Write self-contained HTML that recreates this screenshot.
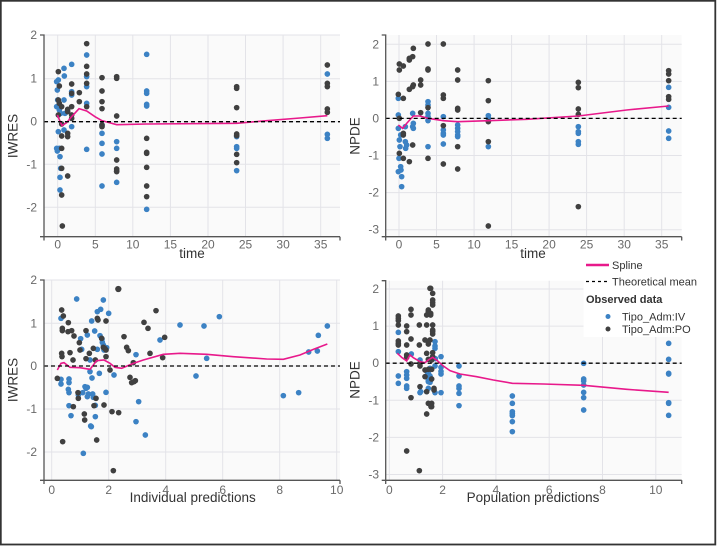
<!DOCTYPE html>
<html><head><meta charset="utf-8"><style>
html,body{margin:0;padding:0;background:#fff;}
svg{display:block;font-family:"Liberation Sans","DejaVu Sans",sans-serif;}
.tk{font-size:12px;fill:#6a6a6a;}
.ttl{font-size:13.5px;fill:#333;}
.lg{font-size:11px;fill:#333;}
.b{fill:#3c82c4;}
.d{fill:#404040;}
.sp{fill:none;stroke:#e8198b;stroke-width:1.6;}
.ax{stroke:#555;stroke-width:1.3;fill:none;}
.gr{stroke:#e3e3e8;stroke-width:1;}
.dash{stroke:#000;stroke-width:1.3;stroke-dasharray:4,3;}
</style></head><body>
<svg width="719" height="546" viewBox="0 0 719 546" xmlns="http://www.w3.org/2000/svg">
<rect x="0" y="0" width="719" height="546" fill="#fff"/>
<rect x="0.8" y="0.8" width="714.5" height="543.7" fill="none" stroke="#333" stroke-width="1.8"/>

<!-- ============ TOP LEFT ============ -->
<rect x="44" y="35" width="296" height="201" fill="#fafafa"/>
<g class="gr">
<line x1="57.7" y1="35" x2="57.7" y2="236"/><line x1="95.3" y1="35" x2="95.3" y2="236"/><line x1="132.8" y1="35" x2="132.8" y2="236"/><line x1="170.4" y1="35" x2="170.4" y2="236"/><line x1="208" y1="35" x2="208" y2="236"/><line x1="245.5" y1="35" x2="245.5" y2="236"/><line x1="283.1" y1="35" x2="283.1" y2="236"/><line x1="320.7" y1="35" x2="320.7" y2="236"/>
<line x1="44" y1="35" x2="340" y2="35"/><line x1="44" y1="78.7" x2="340" y2="78.7"/><line x1="44" y1="121.7" x2="340" y2="121.7"/><line x1="44" y1="164.3" x2="340" y2="164.3"/><line x1="44" y1="207.3" x2="340" y2="207.3"/>
</g>
<g transform="scale(0.333333)">
<g class="b">
<circle cx="170" cy="245" r="8.5"/><circle cx="175" cy="240" r="8.5"/><circle cx="172" cy="270" r="8.5"/><circle cx="173" cy="300" r="8.5"/><circle cx="170" cy="320" r="8.5"/><circle cx="178" cy="330" r="8.5"/><circle cx="182" cy="340" r="8.5"/><circle cx="192" cy="205" r="8.5"/><circle cx="193" cy="228" r="8.5"/><circle cx="192" cy="300" r="8.5"/><circle cx="195" cy="340" r="8.5"/><circle cx="215" cy="193" r="8.5"/><circle cx="215" cy="275" r="8.5"/><circle cx="215" cy="285" r="8.5"/><circle cx="215" cy="380" r="8.5"/><circle cx="175" cy="395" r="8.5"/><circle cx="170" cy="445" r="8.5"/><circle cx="172" cy="453" r="8.5"/><circle cx="178" cy="445" r="8.5"/><circle cx="180" cy="470" r="8.5"/><circle cx="182" cy="505" r="8.5"/><circle cx="180" cy="532" r="8.5"/><circle cx="180" cy="570" r="8.5"/><circle cx="192" cy="390" r="8.5"/><circle cx="260" cy="165" r="8.5"/><circle cx="260" cy="230" r="8.5"/><circle cx="260" cy="260" r="8.5"/><circle cx="260" cy="310" r="8.5"/><circle cx="260" cy="448" r="8.5"/><circle cx="306" cy="375" r="8.5"/><circle cx="306" cy="400" r="8.5"/><circle cx="306" cy="430" r="8.5"/><circle cx="306" cy="462" r="8.5"/><circle cx="306" cy="558" r="8.5"/><circle cx="350" cy="425" r="8.5"/><circle cx="350" cy="445" r="8.5"/><circle cx="350" cy="547" r="8.5"/><circle cx="440" cy="163" r="8.5"/><circle cx="440" cy="273" r="8.5"/><circle cx="440" cy="280" r="8.5"/><circle cx="440" cy="313" r="8.5"/><circle cx="440" cy="318" r="8.5"/><circle cx="440" cy="628" r="8.5"/><circle cx="710" cy="410" r="8.5"/><circle cx="710" cy="440" r="8.5"/><circle cx="710" cy="445" r="8.5"/><circle cx="710" cy="512" r="8.5"/><circle cx="982" cy="222" r="8.5"/><circle cx="982" cy="403" r="8.5"/><circle cx="982" cy="415" r="8.5"/>
</g>
<g class="d">
<circle cx="175" cy="215" r="8.5"/><circle cx="178" cy="258" r="8.5"/><circle cx="175" cy="300" r="8.5"/><circle cx="178" cy="310" r="8.5"/><circle cx="185" cy="320" r="8.5"/><circle cx="175" cy="345" r="8.5"/><circle cx="185" cy="372" r="8.5"/><circle cx="185" cy="408" r="8.5"/><circle cx="185" cy="445" r="8.5"/><circle cx="185" cy="505" r="8.5"/><circle cx="185" cy="585" r="8.5"/><circle cx="187" cy="678" r="8.5"/><circle cx="203" cy="328" r="8.5"/><circle cx="203" cy="335" r="8.5"/><circle cx="203" cy="400" r="8.5"/><circle cx="203" cy="410" r="8.5"/><circle cx="203" cy="528" r="8.5"/><circle cx="215" cy="252" r="8.5"/><circle cx="215" cy="280" r="8.5"/><circle cx="215" cy="320" r="8.5"/><circle cx="215" cy="345" r="8.5"/><circle cx="215" cy="355" r="8.5"/><circle cx="238" cy="278" r="8.5"/><circle cx="238" cy="305" r="8.5"/><circle cx="260" cy="131" r="8.5"/><circle cx="260" cy="199" r="8.5"/><circle cx="260" cy="222" r="8.5"/><circle cx="260" cy="250" r="8.5"/><circle cx="260" cy="320" r="8.5"/><circle cx="306" cy="233" r="8.5"/><circle cx="306" cy="273" r="8.5"/><circle cx="306" cy="305" r="8.5"/><circle cx="306" cy="326" r="8.5"/><circle cx="306" cy="375" r="8.5"/><circle cx="306" cy="380" r="8.5"/><circle cx="350" cy="230" r="8.5"/><circle cx="350" cy="235" r="8.5"/><circle cx="350" cy="348" r="8.5"/><circle cx="350" cy="480" r="8.5"/><circle cx="350" cy="507" r="8.5"/><circle cx="350" cy="513" r="8.5"/><circle cx="350" cy="515" r="8.5"/><circle cx="440" cy="415" r="8.5"/><circle cx="440" cy="457" r="8.5"/><circle cx="440" cy="460" r="8.5"/><circle cx="440" cy="502" r="8.5"/><circle cx="440" cy="558" r="8.5"/><circle cx="440" cy="590" r="8.5"/><circle cx="710" cy="260" r="8.5"/><circle cx="710" cy="265" r="8.5"/><circle cx="710" cy="323" r="8.5"/><circle cx="710" cy="402" r="8.5"/><circle cx="710" cy="407" r="8.5"/><circle cx="710" cy="463" r="8.5"/><circle cx="710" cy="488" r="8.5"/><circle cx="982" cy="195" r="8.5"/><circle cx="982" cy="250" r="8.5"/><circle cx="982" cy="260" r="8.5"/><circle cx="982" cy="327" r="8.5"/><circle cx="982" cy="337" r="8.5"/>
</g>
<polyline class="sp" vector-effect="non-scaling-stroke" points="172,345 186,377 200,368 215,350 237,326 260,333 285,350 306,362 350,374 440,372 710,370 800,362 900,354 982,347"/>
</g>
<line class="dash" x1="44" y1="121.7" x2="340" y2="121.7"/>
<path class="ax" d="M40,35 H44 V236.7 M40,236.7 H340 M44,236.7 V240.5 M340,236.7 V240.5"/>
<g class="tk" text-anchor="end">
<text x="37" y="39">2</text><text x="37" y="82.7">1</text><text x="37" y="125.7">0</text><text x="37" y="168.3">-1</text><text x="37" y="211.3">-2</text>
</g>
<g class="tk" text-anchor="middle">
<text x="57.7" y="248.5">0</text><text x="95.3" y="248.5">5</text><text x="132.8" y="248.5">10</text><text x="170.4" y="248.5">15</text><text x="208" y="248.5">20</text><text x="245.5" y="248.5">25</text><text x="283.1" y="248.5">30</text><text x="320.7" y="248.5">35</text>
</g>
<text class="ttl" x="192" y="258" text-anchor="middle">time</text>
<text class="ttl" transform="translate(17.5,136) rotate(-90)" text-anchor="middle">IWRES</text>

<!-- ============ TOP RIGHT ============ -->
<rect x="385.7" y="35" width="296" height="201" fill="#fafafa"/>
<g class="gr">
<line x1="399" y1="35" x2="399" y2="236"/><line x1="436.5" y1="35" x2="436.5" y2="236"/><line x1="474.1" y1="35" x2="474.1" y2="236"/><line x1="511.6" y1="35" x2="511.6" y2="236"/><line x1="549.1" y1="35" x2="549.1" y2="236"/><line x1="586.6" y1="35" x2="586.6" y2="236"/><line x1="624.2" y1="35" x2="624.2" y2="236"/><line x1="661.7" y1="35" x2="661.7" y2="236"/>
<line x1="385.7" y1="44.3" x2="681.7" y2="44.3"/><line x1="385.7" y1="81.4" x2="681.7" y2="81.4"/><line x1="385.7" y1="118.4" x2="681.7" y2="118.4"/><line x1="385.7" y1="155.5" x2="681.7" y2="155.5"/><line x1="385.7" y1="192.6" x2="681.7" y2="192.6"/><line x1="385.7" y1="229.7" x2="681.7" y2="229.7"/>
</g>
<g transform="translate(360,0) scale(0.333333)">
<g class="b">
<circle cx="115" cy="295" r="8.5"/><circle cx="115" cy="345" r="8.5"/><circle cx="115" cy="385" r="8.5"/><circle cx="117" cy="475" r="8.5"/><circle cx="115" cy="515" r="8.5"/><circle cx="118" cy="420" r="8.5"/><circle cx="120" cy="440" r="8.5"/><circle cx="122" cy="405" r="8.5"/><circle cx="122" cy="500" r="8.5"/><circle cx="123" cy="510" r="8.5"/><circle cx="125" cy="530" r="8.5"/><circle cx="125" cy="560" r="8.5"/><circle cx="136" cy="380" r="8.5"/><circle cx="136" cy="425" r="8.5"/><circle cx="137" cy="445" r="8.5"/><circle cx="140" cy="435" r="8.5"/><circle cx="158" cy="340" r="8.5"/><circle cx="158" cy="380" r="8.5"/><circle cx="160" cy="370" r="8.5"/><circle cx="160" cy="385" r="8.5"/><circle cx="204" cy="305" r="8.5"/><circle cx="204" cy="315" r="8.5"/><circle cx="204" cy="340" r="8.5"/><circle cx="204" cy="350" r="8.5"/><circle cx="204" cy="362" r="8.5"/><circle cx="204" cy="440" r="8.5"/><circle cx="250" cy="350" r="8.5"/><circle cx="250" cy="390" r="8.5"/><circle cx="250" cy="400" r="8.5"/><circle cx="250" cy="405" r="8.5"/><circle cx="250" cy="432" r="8.5"/><circle cx="293" cy="375" r="8.5"/><circle cx="293" cy="385" r="8.5"/><circle cx="293" cy="395" r="8.5"/><circle cx="293" cy="405" r="8.5"/><circle cx="293" cy="410" r="8.5"/><circle cx="385" cy="347" r="8.5"/><circle cx="385" cy="355" r="8.5"/><circle cx="385" cy="440" r="8.5"/><circle cx="655" cy="380" r="8.5"/><circle cx="655" cy="395" r="8.5"/><circle cx="655" cy="400" r="8.5"/><circle cx="655" cy="425" r="8.5"/><circle cx="655" cy="433" r="8.5"/><circle cx="926" cy="262" r="8.5"/><circle cx="926" cy="322" r="8.5"/><circle cx="926" cy="393" r="8.5"/><circle cx="926" cy="415" r="8.5"/>
</g>
<g class="d">
<circle cx="118" cy="192" r="8.5"/><circle cx="118" cy="210" r="8.5"/><circle cx="115" cy="283" r="8.5"/><circle cx="118" cy="355" r="8.5"/><circle cx="118" cy="460" r="8.5"/><circle cx="130" cy="198" r="8.5"/><circle cx="130" cy="295" r="8.5"/><circle cx="130" cy="400" r="8.5"/><circle cx="130" cy="405" r="8.5"/><circle cx="130" cy="475" r="8.5"/><circle cx="148" cy="175" r="8.5"/><circle cx="148" cy="180" r="8.5"/><circle cx="148" cy="268" r="8.5"/><circle cx="148" cy="485" r="8.5"/><circle cx="158" cy="170" r="8.5"/><circle cx="158" cy="260" r="8.5"/><circle cx="158" cy="435" r="8.5"/><circle cx="160" cy="145" r="8.5"/><circle cx="160" cy="255" r="8.5"/><circle cx="182" cy="240" r="8.5"/><circle cx="182" cy="255" r="8.5"/><circle cx="182" cy="338" r="8.5"/><circle cx="204" cy="132" r="8.5"/><circle cx="204" cy="207" r="8.5"/><circle cx="204" cy="210" r="8.5"/><circle cx="204" cy="323" r="8.5"/><circle cx="204" cy="475" r="8.5"/><circle cx="250" cy="132" r="8.5"/><circle cx="250" cy="285" r="8.5"/><circle cx="250" cy="295" r="8.5"/><circle cx="250" cy="377" r="8.5"/><circle cx="250" cy="492" r="8.5"/><circle cx="293" cy="210" r="8.5"/><circle cx="293" cy="240" r="8.5"/><circle cx="293" cy="325" r="8.5"/><circle cx="293" cy="330" r="8.5"/><circle cx="293" cy="440" r="8.5"/><circle cx="293" cy="507" r="8.5"/><circle cx="385" cy="242" r="8.5"/><circle cx="385" cy="302" r="8.5"/><circle cx="385" cy="365" r="8.5"/><circle cx="385" cy="425" r="8.5"/><circle cx="385" cy="678" r="8.5"/><circle cx="655" cy="247" r="8.5"/><circle cx="655" cy="263" r="8.5"/><circle cx="655" cy="327" r="8.5"/><circle cx="655" cy="343" r="8.5"/><circle cx="655" cy="620" r="8.5"/><circle cx="926" cy="212" r="8.5"/><circle cx="926" cy="222" r="8.5"/><circle cx="926" cy="242" r="8.5"/><circle cx="926" cy="290" r="8.5"/><circle cx="926" cy="298" r="8.5"/>
</g>
<polyline class="sp" vector-effect="non-scaling-stroke" points="115,375 128,385 140,370 160,348 180,348 204,355 250,362 293,365 385,362 500,358 655,348 800,330 926,318"/>
</g>
<line class="dash" x1="385.7" y1="118.4" x2="681.7" y2="118.4"/>
<path class="ax" d="M381.7,35 H385.7 V236.7 M381.7,236.7 H681.7 M385.7,236.7 V240.5 M681.7,236.7 V240.5"/>
<g class="tk" text-anchor="end">
<text x="379" y="48.3">2</text><text x="379" y="85.4">1</text><text x="379" y="122.4">0</text><text x="379" y="159.5">-1</text><text x="379" y="196.6">-2</text><text x="379" y="233.7">-3</text>
</g>
<g class="tk" text-anchor="middle">
<text x="399" y="248.5">0</text><text x="436.5" y="248.5">5</text><text x="474.1" y="248.5">10</text><text x="511.6" y="248.5">15</text><text x="549.1" y="248.5">20</text><text x="586.6" y="248.5">25</text><text x="624.2" y="248.5">30</text><text x="661.7" y="248.5">35</text>
</g>
<text class="ttl" x="533" y="258" text-anchor="middle">time</text>
<text class="ttl" transform="translate(359.5,136) rotate(-90)" text-anchor="middle">NPDE</text>

<!-- ============ BOTTOM LEFT ============ -->
<rect x="44" y="280" width="296" height="200" fill="#fafafa"/>
<g class="gr">
<line x1="51.7" y1="280" x2="51.7" y2="480"/><line x1="108.7" y1="280" x2="108.7" y2="480"/><line x1="165.7" y1="280" x2="165.7" y2="480"/><line x1="222.7" y1="280" x2="222.7" y2="480"/><line x1="279.7" y1="280" x2="279.7" y2="480"/><line x1="336.7" y1="280" x2="336.7" y2="480"/>
<line x1="44" y1="280" x2="340" y2="280"/><line x1="44" y1="323.3" x2="340" y2="323.3"/><line x1="44" y1="366" x2="340" y2="366"/><line x1="44" y1="409" x2="340" y2="409"/><line x1="44" y1="452" x2="340" y2="452"/>
</g>
<g transform="translate(0,260) scale(0.333333)">
<g class="b">
<circle cx="183" cy="175" r="8.5"/><circle cx="183" cy="358" r="8.5"/><circle cx="183" cy="372" r="8.5"/><circle cx="207" cy="357" r="8.5"/><circle cx="207" cy="368" r="8.5"/><circle cx="205" cy="388" r="8.5"/><circle cx="207" cy="398" r="8.5"/><circle cx="207" cy="437" r="8.5"/><circle cx="213" cy="467" r="8.5"/><circle cx="230" cy="117" r="8.5"/><circle cx="235" cy="405" r="8.5"/><circle cx="242" cy="236" r="8.5"/><circle cx="245" cy="268" r="8.5"/><circle cx="248" cy="398" r="8.5"/><circle cx="250" cy="580" r="8.5"/><circle cx="255" cy="380" r="8.5"/><circle cx="258" cy="385" r="8.5"/><circle cx="262" cy="410" r="8.5"/><circle cx="262" cy="225" r="8.5"/><circle cx="262" cy="382" r="8.5"/><circle cx="265" cy="402" r="8.5"/><circle cx="270" cy="300" r="8.5"/><circle cx="270" cy="335" r="8.5"/><circle cx="272" cy="498" r="8.5"/><circle cx="274" cy="500" r="8.5"/><circle cx="275" cy="183" r="8.5"/><circle cx="276" cy="354" r="8.5"/><circle cx="278" cy="402" r="8.5"/><circle cx="280" cy="412" r="8.5"/><circle cx="284" cy="213" r="8.5"/><circle cx="286" cy="470" r="8.5"/><circle cx="286" cy="436" r="8.5"/><circle cx="292" cy="268" r="8.5"/><circle cx="292" cy="155" r="8.5"/><circle cx="298" cy="340" r="8.5"/><circle cx="300" cy="227" r="8.5"/><circle cx="302" cy="148" r="8.5"/><circle cx="306" cy="237" r="8.5"/><circle cx="307" cy="247" r="8.5"/><circle cx="310" cy="120" r="8.5"/><circle cx="310" cy="255" r="8.5"/><circle cx="312" cy="270" r="8.5"/><circle cx="318" cy="397" r="8.5"/><circle cx="320" cy="263" r="8.5"/><circle cx="326" cy="160" r="8.5"/><circle cx="342" cy="345" r="8.5"/><circle cx="408" cy="284" r="8.5"/><circle cx="408" cy="485" r="8.5"/><circle cx="416" cy="425" r="8.5"/><circle cx="436" cy="525" r="8.5"/><circle cx="480" cy="240" r="8.5"/><circle cx="540" cy="195" r="8.5"/><circle cx="588" cy="348" r="8.5"/><circle cx="612" cy="198" r="8.5"/><circle cx="620" cy="295" r="8.5"/><circle cx="658" cy="170" r="8.5"/><circle cx="850" cy="407" r="8.5"/><circle cx="896" cy="398" r="8.5"/><circle cx="926" cy="276" r="8.5"/><circle cx="952" cy="273" r="8.5"/><circle cx="955" cy="226" r="8.5"/><circle cx="982" cy="198" r="8.5"/>
</g>
<g class="d">
<circle cx="172" cy="355" r="8.5"/><circle cx="185" cy="150" r="8.5"/><circle cx="185" cy="280" r="8.5"/><circle cx="186" cy="290" r="8.5"/><circle cx="187" cy="205" r="8.5"/><circle cx="187" cy="212" r="8.5"/><circle cx="190" cy="168" r="8.5"/><circle cx="188" cy="545" r="8.5"/><circle cx="204" cy="215" r="8.5"/><circle cx="205" cy="188" r="8.5"/><circle cx="210" cy="278" r="8.5"/><circle cx="215" cy="212" r="8.5"/><circle cx="219" cy="300" r="8.5"/><circle cx="220" cy="440" r="8.5"/><circle cx="222" cy="228" r="8.5"/><circle cx="234" cy="398" r="8.5"/><circle cx="235" cy="415" r="8.5"/><circle cx="238" cy="248" r="8.5"/><circle cx="240" cy="270" r="8.5"/><circle cx="253" cy="462" r="8.5"/><circle cx="254" cy="480" r="8.5"/><circle cx="258" cy="212" r="8.5"/><circle cx="258" cy="296" r="8.5"/><circle cx="268" cy="280" r="8.5"/><circle cx="280" cy="265" r="8.5"/><circle cx="282" cy="437" r="8.5"/><circle cx="286" cy="300" r="8.5"/><circle cx="288" cy="415" r="8.5"/><circle cx="290" cy="540" r="8.5"/><circle cx="292" cy="175" r="8.5"/><circle cx="294" cy="180" r="8.5"/><circle cx="305" cy="235" r="8.5"/><circle cx="310" cy="262" r="8.5"/><circle cx="312" cy="435" r="8.5"/><circle cx="314" cy="265" r="8.5"/><circle cx="318" cy="183" r="8.5"/><circle cx="318" cy="270" r="8.5"/><circle cx="318" cy="290" r="8.5"/><circle cx="330" cy="330" r="8.5"/><circle cx="336" cy="455" r="8.5"/><circle cx="355" cy="87" r="9.5"/><circle cx="356" cy="458" r="8.5"/><circle cx="372" cy="230" r="8.5"/><circle cx="380" cy="262" r="8.5"/><circle cx="385" cy="272" r="8.5"/><circle cx="390" cy="352" r="8.5"/><circle cx="395" cy="368" r="8.5"/><circle cx="400" cy="308" r="8.5"/><circle cx="402" cy="365" r="8.5"/><circle cx="406" cy="362" r="8.5"/><circle cx="432" cy="187" r="8.5"/><circle cx="444" cy="205" r="8.5"/><circle cx="450" cy="280" r="8.5"/><circle cx="468" cy="152" r="8.5"/><circle cx="488" cy="293" r="8.5"/><circle cx="494" cy="232" r="8.5"/><circle cx="340" cy="632" r="8.5"/>
</g>
<polyline class="sp" vector-effect="non-scaling-stroke" points="172,330 183,310 192,308 210,322 240,323 270,328 290,302 312,300 330,310 345,322 365,325 400,310 430,300 490,283 540,280 620,283 700,290 800,297 850,298 900,285 940,268 982,252"/>
</g>
<line class="dash" x1="44" y1="366" x2="340" y2="366"/>
<path class="ax" d="M40,280 H44 V480.3 M40,480.3 H340 M44,480.3 V484 M340,480.3 V484"/>
<g class="tk" text-anchor="end">
<text x="37" y="284">2</text><text x="37" y="327.3">1</text><text x="37" y="370">0</text><text x="37" y="413">-1</text><text x="37" y="456">-2</text>
</g>
<g class="tk" text-anchor="middle">
<text x="51.7" y="494">0</text><text x="108.7" y="494">2</text><text x="165.7" y="494">4</text><text x="222.7" y="494">6</text><text x="279.7" y="494">8</text><text x="336.7" y="494">10</text>
</g>
<text class="ttl" x="192.7" y="502" text-anchor="middle">Individual predictions</text>
<text class="ttl" transform="translate(17.5,380) rotate(-90)" text-anchor="middle">IWRES</text>

<!-- ============ BOTTOM RIGHT ============ -->
<rect x="385.7" y="280.7" width="296" height="199.6" fill="#fafafa"/>
<g class="gr">
<line x1="389.3" y1="280.7" x2="389.3" y2="480"/><line x1="442.6" y1="280.7" x2="442.6" y2="480"/><line x1="495.9" y1="280.7" x2="495.9" y2="480"/><line x1="549.2" y1="280.7" x2="549.2" y2="480"/><line x1="602.5" y1="280.7" x2="602.5" y2="480"/><line x1="655.8" y1="280.7" x2="655.8" y2="480"/>
<line x1="385.7" y1="289" x2="681.7" y2="289"/><line x1="385.7" y1="326.1" x2="681.7" y2="326.1"/><line x1="385.7" y1="363.2" x2="681.7" y2="363.2"/><line x1="385.7" y1="400.3" x2="681.7" y2="400.3"/><line x1="385.7" y1="437.4" x2="681.7" y2="437.4"/><line x1="385.7" y1="474.5" x2="681.7" y2="474.5"/>
</g>
<g transform="translate(360,260) scale(0.333333)">
<g class="b">
<circle cx="115" cy="217" r="8.5"/><circle cx="115" cy="275" r="8.5"/><circle cx="115" cy="348" r="8.5"/><circle cx="115" cy="370" r="8.5"/><circle cx="140" cy="335" r="8.5"/><circle cx="140" cy="345" r="8.5"/><circle cx="140" cy="355" r="8.5"/><circle cx="140" cy="378" r="8.5"/><circle cx="140" cy="385" r="8.5"/><circle cx="154" cy="282" r="8.5"/><circle cx="180" cy="300" r="8.5"/><circle cx="180" cy="398" r="8.5"/><circle cx="182" cy="395" r="8.5"/><circle cx="200" cy="395" r="8.5"/><circle cx="201" cy="335" r="8.5"/><circle cx="205" cy="340" r="8.5"/><circle cx="205" cy="360" r="8.5"/><circle cx="205" cy="365" r="8.5"/><circle cx="205" cy="385" r="8.5"/><circle cx="210" cy="325" r="8.5"/><circle cx="210" cy="348" r="8.5"/><circle cx="210" cy="367" r="8.5"/><circle cx="212" cy="360" r="8.5"/><circle cx="225" cy="245" r="8.5"/><circle cx="225" cy="258" r="8.5"/><circle cx="225" cy="265" r="8.5"/><circle cx="225" cy="318" r="8.5"/><circle cx="225" cy="398" r="8.5"/><circle cx="226" cy="296" r="8.5"/><circle cx="243" cy="290" r="8.5"/><circle cx="243" cy="322" r="8.5"/><circle cx="243" cy="334" r="8.5"/><circle cx="243" cy="342" r="8.5"/><circle cx="243" cy="398" r="8.5"/><circle cx="297" cy="318" r="8.5"/><circle cx="297" cy="348" r="8.5"/><circle cx="297" cy="378" r="8.5"/><circle cx="297" cy="385" r="8.5"/><circle cx="297" cy="400" r="8.5"/><circle cx="297" cy="437" r="8.5"/><circle cx="457" cy="408" r="8.5"/><circle cx="457" cy="430" r="8.5"/><circle cx="457" cy="455" r="8.5"/><circle cx="457" cy="461" r="8.5"/><circle cx="457" cy="467" r="8.5"/><circle cx="457" cy="485" r="8.5"/><circle cx="457" cy="515" r="8.5"/><circle cx="671" cy="310" r="8.5"/><circle cx="671" cy="357" r="8.5"/><circle cx="671" cy="363" r="8.5"/><circle cx="671" cy="375" r="8.5"/><circle cx="671" cy="397" r="8.5"/><circle cx="671" cy="413" r="8.5"/><circle cx="671" cy="450" r="8.5"/><circle cx="926" cy="250" r="8.5"/><circle cx="926" cy="298" r="8.5"/><circle cx="926" cy="340" r="8.5"/><circle cx="926" cy="342" r="8.5"/><circle cx="926" cy="428" r="8.5"/><circle cx="926" cy="430" r="8.5"/><circle cx="926" cy="466" r="8.5"/>
</g>
<g class="d">
<circle cx="115" cy="168" r="8.5"/><circle cx="115" cy="175" r="8.5"/><circle cx="115" cy="182" r="8.5"/><circle cx="115" cy="195" r="8.5"/><circle cx="115" cy="243" r="8.5"/><circle cx="115" cy="250" r="8.5"/><circle cx="115" cy="255" r="8.5"/><circle cx="140" cy="198" r="8.5"/><circle cx="140" cy="215" r="8.5"/><circle cx="140" cy="255" r="8.5"/><circle cx="140" cy="285" r="8.5"/><circle cx="140" cy="292" r="8.5"/><circle cx="153" cy="148" r="8.5"/><circle cx="153" cy="165" r="8.5"/><circle cx="153" cy="237" r="8.5"/><circle cx="153" cy="312" r="8.5"/><circle cx="153" cy="413" r="8.5"/><circle cx="140" cy="573" r="8.5"/><circle cx="178" cy="195" r="8.5"/><circle cx="178" cy="255" r="8.5"/><circle cx="180" cy="310" r="8.5"/><circle cx="180" cy="318" r="8.5"/><circle cx="180" cy="380" r="8.5"/><circle cx="178" cy="632" r="8.5"/><circle cx="200" cy="165" r="8.5"/><circle cx="200" cy="195" r="8.5"/><circle cx="200" cy="280" r="8.5"/><circle cx="200" cy="395" r="8.5"/><circle cx="200" cy="462" r="8.5"/><circle cx="205" cy="150" r="8.5"/><circle cx="205" cy="155" r="8.5"/><circle cx="205" cy="245" r="8.5"/><circle cx="205" cy="252" r="8.5"/><circle cx="205" cy="298" r="8.5"/><circle cx="205" cy="328" r="8.5"/><circle cx="205" cy="430" r="8.5"/><circle cx="210" cy="85" r="8.5"/><circle cx="212" cy="85" r="8.5"/><circle cx="212" cy="160" r="8.5"/><circle cx="212" cy="165" r="8.5"/><circle cx="215" cy="300" r="8.5"/><circle cx="215" cy="328" r="8.5"/><circle cx="215" cy="357" r="8.5"/><circle cx="215" cy="430" r="8.5"/><circle cx="215" cy="440" r="8.5"/><circle cx="218" cy="100" r="8.5"/><circle cx="218" cy="120" r="8.5"/><circle cx="218" cy="128" r="8.5"/><circle cx="218" cy="135" r="8.5"/><circle cx="218" cy="195" r="8.5"/><circle cx="218" cy="210" r="8.5"/><circle cx="218" cy="215" r="8.5"/><circle cx="218" cy="222" r="8.5"/><circle cx="218" cy="278" r="8.5"/><circle cx="218" cy="290" r="8.5"/><circle cx="222" cy="385" r="8.5"/><circle cx="222" cy="390" r="8.5"/><circle cx="213" cy="440" r="8.5"/><circle cx="210" cy="240" r="8.5"/><circle cx="195" cy="240" r="8.5"/><circle cx="195" cy="330" r="8.5"/><circle cx="195" cy="350" r="8.5"/>
</g>
<polyline class="sp" vector-effect="non-scaling-stroke" points="112,280 125,292 140,303 150,285 160,293 180,305 195,308 205,300 218,292 232,302 250,318 270,332 300,342 350,350 400,360 457,370 550,372 671,376 800,388 926,397"/>
</g>
<line class="dash" x1="385.7" y1="363.2" x2="681.7" y2="363.2"/>
<path class="ax" d="M381.7,280.7 H385.7 V480.3 M381.7,480.3 H681.7 M385.7,480.3 V484 M681.7,480.3 V484"/>
<g class="tk" text-anchor="end">
<text x="379" y="293">2</text><text x="379" y="330.1">1</text><text x="379" y="367.2">0</text><text x="379" y="404.3">-1</text><text x="379" y="441.4">-2</text><text x="379" y="478.5">-3</text>
</g>
<g class="tk" text-anchor="middle">
<text x="389.3" y="494">0</text><text x="442.6" y="494">2</text><text x="495.9" y="494">4</text><text x="549.2" y="494">6</text><text x="602.5" y="494">8</text><text x="655.8" y="494">10</text>
</g>
<text class="ttl" x="533" y="502" text-anchor="middle">Population predictions</text>
<text class="ttl" transform="translate(359.5,380) rotate(-90)" text-anchor="middle">NPDE</text>

<!-- ============ LEGEND ============ -->
<rect x="583.5" y="256" width="130" height="81" fill="#fff"/>
<line x1="586" y1="265" x2="609" y2="265" stroke="#e8198b" stroke-width="2.5"/>
<text class="lg" x="612" y="269">Spline</text>
<line x1="586" y1="281.5" x2="609" y2="281.5" stroke="#000" stroke-width="1.2" stroke-dasharray="3,3"/>
<text class="lg" x="612" y="285.5">Theoretical mean</text>
<text class="lg" x="586" y="303" font-weight="bold">Observed data</text>
<circle cx="608" cy="316.5" r="2.5" fill="#3c82c4"/>
<text class="lg" x="622" y="320.5">Tipo_Adm:IV</text>
<circle cx="608" cy="329" r="2.5" fill="#404040"/>
<text class="lg" x="622" y="333">Tipo_Adm:PO</text>
</svg>
</body></html>
